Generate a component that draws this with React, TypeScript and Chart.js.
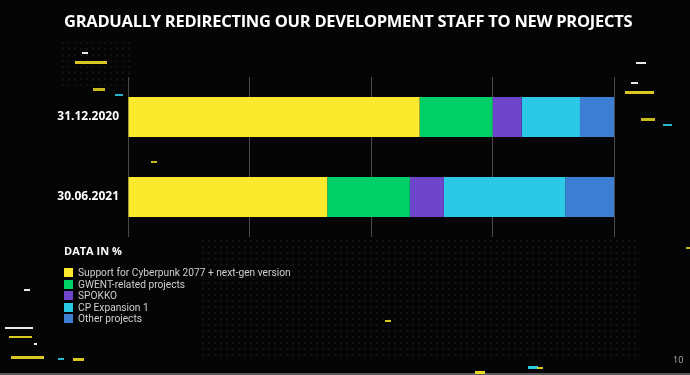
import React, { useEffect, useRef } from "react";
import { Chart, registerables } from "chart.js";

Chart.register(...registerables);

const categories = ["31.12.2020", "30.06.2021"];
const seriesNames = [
  "Support for Cyberpunk 2077 + next-gen version",
  "GWENT-related projects",
  "SPOKKO",
  "CP Expansion 1",
  "Other projects",
];
const supportCP = [60, 41];
const gwent = [15, 17];
const spokko = [6, 7];
const cpExpansion = [12, 25];
const otherProjects = [7, 10];
const seriesColors = ["#fbe92e", "#00cf67", "#6e46cc", "#2bc9e7", "#3c7ed4"];
const xTicks = [0, 25, 50, 75, 100];

const title = "GRADUALLY REDIRECTING OUR DEVELOPMENT STAFF TO NEW PROJECTS";
const legendTitle = "DATA IN %";
const pageNumber = "10";

// decorative dashes [x, y, w, h, color]
const decor: [number, number, number, number, string][] = [
  [82, 52, 6, 2, "#e8e8e8"],
  [75, 61, 32, 3, "#d8c820"],
  [93, 88, 12, 3, "#c9b820"],
  [115, 94, 8, 2, "#2bb5c9"],
  [636, 62, 10, 2, "#e8e8e8"],
  [631, 82, 7, 2, "#e8e8e8"],
  [625, 91, 29, 3, "#d8c820"],
  [641, 118, 14, 3, "#c9b820"],
  [663, 124, 9, 2, "#2bb5c9"],
  [151, 161, 6, 2, "#c9b820"],
  [24, 289, 6, 2, "#e8e8e8"],
  [5, 327, 28, 2, "#e8e8e8"],
  [9, 336, 23, 2, "#d8c820"],
  [34, 343, 3, 2, "#e8e8e8"],
  [11, 356, 33, 3, "#d8c820"],
  [58, 358, 6, 2, "#2bb5c9"],
  [73, 358, 11, 3, "#d8c820"],
  [385, 320, 6, 2, "#d8c820"],
  [475, 371, 10, 3, "#e8d820"],
  [528, 366, 10, 3, "#2bc9e7"],
  [537, 367, 6, 2, "#d8c820"],
  [686, 247, 4, 2, "#c9b820"],
];

export default function App() {
  const canvasRef = useRef<HTMLCanvasElement | null>(null);

  useEffect(() => {
    const canvas = canvasRef.current;
    if (!canvas) return;
    const values = [supportCP, gwent, spokko, cpExpansion, otherProjects];
    const chart = new Chart(canvas, {
      type: "bar",
      data: {
        labels: categories,
        datasets: seriesNames.map((name, i) => ({
          label: name,
          data: values[i],
          backgroundColor: seriesColors[i],
          borderWidth: 0,
          barPercentage: 0.5,
          categoryPercentage: 1,
        })),
      },
      options: {
        indexAxis: "y",
        responsive: false,
        animation: false,
        layout: { padding: { top: 77, right: 76, bottom: 138, left: 0 } },
        plugins: { legend: { display: false }, tooltip: { enabled: false } },
        scales: {
          x: {
            stacked: true,
            min: 0,
            max: 100,
            afterBuildTicks: (scale: any) => {
              scale.ticks = xTicks.map((v) => ({ value: v }));
            },
            ticks: { display: false },
            grid: { color: "#4a4a4a", lineWidth: 1, drawTicks: false },
            border: { display: false },
          },
          y: {
            stacked: true,
            grid: { display: false, drawTicks: false },
            border: { display: false },
            ticks: {
              color: "#ffffff",
              padding: 9,
              font: { family: "'Open Sans', sans-serif", weight: "bold", size: 12 },
            },
            afterFit: (scale: any) => {
              scale.width = 128;
            },
          },
        },
      },
    });
    return () => chart.destroy();
  }, []);

  return (
    <div
      style={{
        position: "fixed",
        left: 0,
        top: 0,
        width: 690,
        height: 375,
        background: "#050505",
        overflow: "hidden",
        fontFamily: "'Open Sans', sans-serif",
      }}
    >
      <div
        style={{
          position: "absolute",
          left: 200,
          top: 238,
          width: 440,
          height: 118,
          backgroundImage: "radial-gradient(circle, #131313 0.9px, transparent 1.2px)",
          backgroundSize: "6px 6px",
        }}
      />
      <div
        style={{
          position: "absolute",
          left: 60,
          top: 40,
          width: 70,
          height: 50,
          backgroundImage: "radial-gradient(circle, #121212 0.9px, transparent 1.2px)",
          backgroundSize: "6px 6px",
        }}
      />
      <div
        style={{
          position: "absolute",
          left: 0,
          bottom: 0,
          width: 690,
          height: 2,
          background: "#5a5a5a",
        }}
      />
      {decor.map(([x, y, w, h, c], i) => (
        <div
          key={i}
          style={{ position: "absolute", left: x, top: y, width: w, height: h, background: c }}
        />
      ))}
      <canvas
        ref={canvasRef}
        width={690}
        height={375}
        style={{ position: "absolute", left: 0, top: 0, width: 690, height: 375 }}
      />
      <div
        style={{
          position: "absolute",
          left: 64,
          top: 9,
          color: "#ffffff",
          fontWeight: 700,
          fontSize: 16.5,
          whiteSpace: "nowrap",
          letterSpacing: -0.27,
        }}
      >
        {title}
      </div>
      <div
        style={{
          position: "absolute",
          left: 64,
          top: 243,
          color: "#ffffff",
          fontWeight: 700,
          fontSize: 11,
          whiteSpace: "nowrap",
        }}
      >
        {legendTitle}
      </div>
      <div style={{ position: "absolute", left: 64, top: 267 }}>
        {seriesNames.map((name, i) => (
          <div
            key={name}
            style={{ display: "flex", alignItems: "center", height: 11.5, whiteSpace: "nowrap" }}
          >
            <div style={{ width: 9, height: 9, background: seriesColors[i], marginRight: 5 }} />
            <span
              style={{
                color: "#cfcfcf",
                fontFamily: "Roboto, sans-serif",
                fontSize: 10.2,
                letterSpacing: 0,
              }}
            >
              {name}
            </span>
          </div>
        ))}
      </div>
      <div
        style={{
          position: "absolute",
          left: 673,
          top: 353,
          color: "#b0b0b0",
          fontSize: 9,
        }}
      >
        {pageNumber}
      </div>
    </div>
  );
}
